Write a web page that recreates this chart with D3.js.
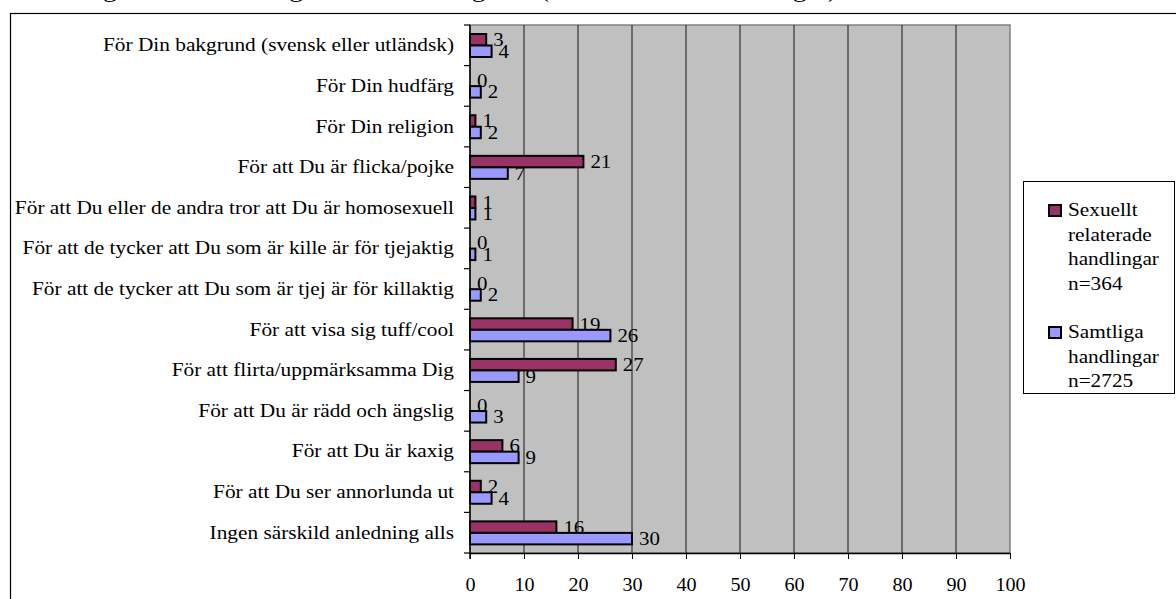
<!DOCTYPE html>
<html>
<head>
<meta charset="utf-8">
<script src="https://cdn.jsdelivr.net/npm/d3@7"></script>
<style>
  body { margin: 0; background: #fff; }
  svg text { font-family: "Liberation Serif", "DejaVu Serif", serif; }
</style>
</head>
<body>
<script>
// data
let categories = [
  'För Din bakgrund (svensk eller utländsk)',
  'För Din hudfärg',
  'För Din religion',
  'För att Du är flicka/pojke',
  'För att Du eller de andra tror att Du är homosexuell',
  'För att de tycker att Du som är kille är för tjejaktig',
  'För att de tycker att Du som är tjej är för killaktig',
  'För att visa sig tuff/cool',
  'För att flirta/uppmärksamma Dig',
  'För att Du är rädd och ängslig',
  'För att Du är kaxig',
  'För att Du ser annorlunda ut',
  'Ingen särskild anledning alls'
];
let sexuellt = [3, 0, 1, 21, 1, 0, 0, 19, 27, 0, 6, 2, 16];
let samtliga = [4, 2, 2, 7, 1, 1, 2, 26, 9, 3, 9, 4, 30];
let xTicks = [0, 10, 20, 30, 40, 50, 60, 70, 80, 90, 100];
let seriesNames = [
  ['Sexuellt', 'relaterade', 'handlingar', 'n=364'],
  ['Samtliga', 'handlingar', 'n=2725']
];
let colours = ['#993366', '#9999FF'];

let width = 1176, height = 599;
let plot = { left: 470, right: 1010, top: 25, bottom: 553 };
let fam = '"Liberation Serif", "DejaVu Serif", serif';

let svg = d3.select('body').append('svg')
  .attr('width', width)
  .attr('height', height)
  .attr('font-family', fam);

// title, mostly cut off above the picture
svg.append('text')
  .attr('transform', 'translate(80,-3) scale(1.15,1)')
  .attr('font-size', 24)
  .text('Figur 12. Anledningen till kränkningarna (i andel av alla handlingar)');

// outer chart frame
svg.append('rect')
  .attr('x', 10.5).attr('y', 13.5)
  .attr('width', 1200).attr('height', 700)
  .attr('fill', 'none')
  .attr('stroke', '#000')
  .attr('stroke-width', 1.2);

let x = d3.scaleLinear().domain([0, 100]).range([plot.left, plot.right]);
let y = d3.scaleBand().domain(categories).range([plot.top, plot.bottom]);

// plot background
svg.append('rect')
  .attr('x', plot.left).attr('y', plot.top)
  .attr('width', plot.right - plot.left)
  .attr('height', plot.bottom - plot.top)
  .attr('fill', '#C0C0C0')
  .attr('stroke', '#808080')
  .attr('stroke-width', 1.5);

// gridlines
svg.append('g')
  .selectAll('line')
  .data(xTicks.slice(1, -1))
  .enter().append('line')
  .attr('x1', d => x(d)).attr('x2', d => x(d))
  .attr('y1', plot.top).attr('y2', plot.bottom)
  .attr('stroke', '#333')
  .attr('stroke-width', 1.2);

// x axis
let xAxis = svg.append('g')
  .attr('transform', 'translate(0,' + plot.bottom + ')')
  .call(d3.axisBottom(x).tickValues(xTicks).tickSize(6).tickSizeOuter(0).tickPadding(19));
xAxis.attr('font-family', fam).attr('font-size', 19);
xAxis.select('.domain').attr('stroke-width', 1.5);
xAxis.selectAll('text').attr('fill', '#000').attr('transform', 'scale(1.06,1)');

// y axis with ticks on the band edges
let yg = svg.append('g');
yg.append('line')
  .attr('x1', plot.left).attr('x2', plot.left)
  .attr('y1', plot.top).attr('y2', plot.bottom + 6)
  .attr('stroke', '#000').attr('stroke-width', 1.5);
yg.selectAll('.edge')
  .data(categories.map(c => y(c)).concat([plot.bottom]))
  .enter().append('line')
  .attr('x1', plot.left - 6).attr('x2', plot.left)
  .attr('y1', d => d).attr('y2', d => d)
  .attr('stroke', '#000').attr('stroke-width', 1.2);
yg.selectAll('.cat')
  .data(categories)
  .enter().append('text')
  .attr('transform', d => 'translate(454,' + (y(d) + y.bandwidth() / 2 + 6) + ') scale(1.185,1)')
  .attr('text-anchor', 'end')
  .attr('font-size', 18)
  .text(d => d);

// bars
let barH = 11.5, offset = 9;
[sexuellt, samtliga].forEach(function (vals, s) {
  let g = svg.append('g');
  g.selectAll('rect')
    .data(vals)
    .enter().append('rect')
    .attr('x', x(0))
    .attr('y', (d, i) => y(categories[i]) + offset + s * barH)
    .attr('width', d => x(d) - x(0))
    .attr('height', barH)
    .attr('fill', colours[s])
    .attr('stroke', '#000')
    .attr('stroke-width', 2);
  g.selectAll('text')
    .data(vals)
    .enter().append('text')
    .attr('transform', (d, i) => 'translate(' + (x(d) + 7) + ',' +
      (y(categories[i]) + offset + s * barH + barH / 2 + 6.5) + ') scale(1.1,1)')
    .attr('font-size', 19)
    .text(d => d);
});

// legend
let lg = svg.append('g');
lg.append('rect')
  .attr('x', 1023.5).attr('y', 181.5)
  .attr('width', 151).attr('height', 212)
  .attr('fill', '#fff')
  .attr('stroke', '#000')
  .attr('stroke-width', 1);
let legendTop = [210, 332];
seriesNames.forEach(function (lines, s) {
  lg.append('rect')
    .attr('x', 1049).attr('y', legendTop[s] - 5)
    .attr('width', 12).attr('height', 11)
    .attr('fill', colours[s])
    .attr('stroke', '#000')
    .attr('stroke-width', 2);
  lg.selectAll('.l' + s)
    .data(lines)
    .enter().append('text')
    .attr('transform', (d, i) => 'translate(1068,' + (legendTop[s] + i * 24.6 + 6) + ') scale(1.12,1)')
    .attr('font-size', 19)
    .text(d => d);
});
</script>
</body>
</html>
